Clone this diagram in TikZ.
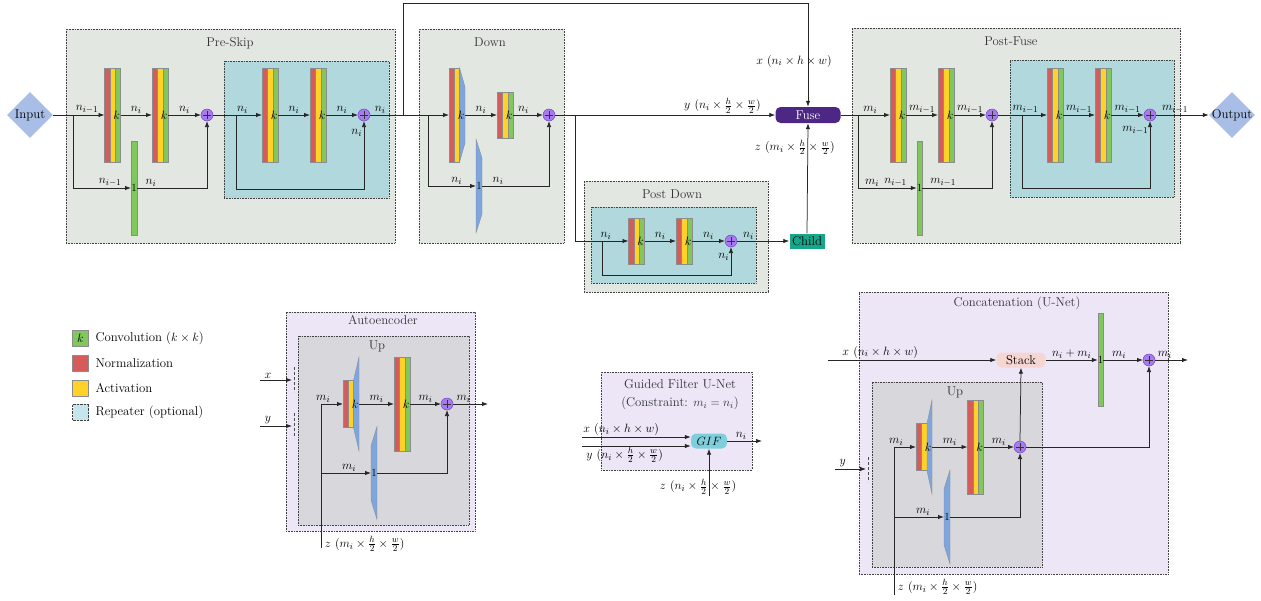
\documentclass[tikz,border=0pt]{standalone}
\usetikzlibrary{arrows.meta,shapes.geometric}
\definecolor{boxg}{RGB}{227,231,226}
\definecolor{repc}{RGB}{176,216,221}
\definecolor{legrep}{RGB}{198,230,238}
\definecolor{cred}{RGB}{214,92,92}
\definecolor{cyel}{RGB}{255,210,40}
\definecolor{cgreen}{RGB}{128,200,92}
\definecolor{cblue}{RGB}{126,166,222}
\definecolor{plusc}{RGB}{168,122,240}
\definecolor{plusd}{RGB}{110,70,190}
\definecolor{fusec}{RGB}{76,40,132}
\definecolor{childc}{RGB}{22,166,138}
\definecolor{ioc}{RGB}{168,190,230}
\definecolor{lav}{RGB}{236,230,246}
\definecolor{upg}{RGB}{216,216,220}
\definecolor{gifc}{RGB}{126,206,220}
\definecolor{stackc}{RGB}{246,214,210}
\begin{document}
\begin{tikzpicture}[x=1pt,y=-1pt,font=\fontsize{12.8}{15}\selectfont,
 arr/.style={-{Latex[length=6pt,width=4.4pt]},line width=0.75pt,draw=black!85},
 lab/.style={inner sep=1.5pt},
 ttl/.style={text=black!80,inner sep=1pt},
 cbox/.style={draw=black!75,densely dotted,line width=0.6pt,inner sep=0pt,outer sep=0pt,anchor=north west},
 strip/.style={draw=black!45,line width=0.35pt},
 nac/.style={draw=black!45,line width=0.4pt,fill=cgreen,minimum width=16pt,minimum height=#1,inner sep=0pt,outer sep=0pt,
  path picture={
   \fill[cred] (path picture bounding box.north west) rectangle ([xshift=5.33pt]path picture bounding box.south west);
   \fill[cyel] ([xshift=5.33pt]path picture bounding box.north west) rectangle ([xshift=10.67pt]path picture bounding box.south west);
   \draw[black!45,line width=0.3pt] ([xshift=5.33pt]path picture bounding box.north west) -- ([xshift=5.33pt]path picture bounding box.south west) ([xshift=10.67pt]path picture bounding box.north west) -- ([xshift=10.67pt]path picture bounding box.south west);},
  label={[anchor=east,inner sep=0.3pt,font=\fontsize{11.5}{12}\selectfont]east:$k$}},
 nac/.default=94pt,
 conv1/.style={draw=black!45,line width=0.4pt,fill=cgreen,minimum width=6pt,minimum height=94pt,inner sep=0pt,outer sep=0pt,font=\fontsize{11}{12}\selectfont},
 ghost/.style={inner sep=0pt,outer sep=0pt,minimum width=#1},
 klab/.style={inner sep=0.3pt,font=\fontsize{11.5}{12}\selectfont},
 onelab/.style={inner sep=0pt,font=\fontsize{11}{12}\selectfont},
 plus/.style={circle,draw=plusd,fill=plusc,line width=0.5pt,minimum size=12pt,inner sep=0pt,outer sep=0pt,
  path picture={\draw[black!80,line width=0.6pt] ([yshift=-2pt]path picture bounding box.north) -- ([yshift=2pt]path picture bounding box.south) ([xshift=2pt]path picture bounding box.west) -- ([xshift=-2pt]path picture bounding box.east);}},
 iod/.style={diamond,aspect=1,fill=ioc,minimum width=46pt,minimum height=46pt,inner sep=0pt},
 lg/.style={draw=black!45,line width=0.4pt,minimum size=16pt,inner sep=0pt}
]
\useasboundingbox (0,0) rectangle (1261,600);

% ---------------- container boxes ----------------
\node[cbox,fill=boxg,minimum width=329pt,minimum height=214pt] (preskip) at (66,29) {};
\node[cbox,fill=repc,minimum width=165pt,minimum height=137pt] (rep1) at (224,61) {};
\node[cbox,fill=boxg,minimum width=145pt,minimum height=214pt] (down) at (419,29) {};
\node[cbox,fill=boxg,minimum width=184pt,minimum height=111pt] (postdown) at (584,181) {};
\node[cbox,fill=repc,minimum width=165pt,minimum height=76pt] (reppd) at (591,207) {};
\node[cbox,fill=boxg,minimum width=328pt,minimum height=215pt] (postfuse) at (852,28) {};
\node[cbox,fill=repc,minimum width=164pt,minimum height=137pt] (rep2) at (1010,60) {};
\node[cbox,fill=lav,minimum width=189pt,minimum height=219pt] (auto) at (286,312) {};
\node[cbox,fill=upg,minimum width=171pt,minimum height=189pt] (upA) at (298,336) {};
\node[cbox,fill=lav,minimum width=151pt,minimum height=98pt] (gfbox) at (601,372) {};
\node[cbox,fill=lav,minimum width=309pt,minimum height=282pt] (concat) at (859,292) {};
\node[cbox,fill=upg,minimum width=170pt,minimum height=185pt] (upC) at (872,382) {};

\node[ttl] (tpre) at (230,43) {Pre-Skip};
\node[ttl] (tdown) at (490,42) {Down};
\node[ttl] (tpd) at (672,194) {Post Down};
\node[ttl] (tpf) at (1011,41) {Post-Fuse};
\node[ttl] (tauto) at (383,320) {Autoencoder};
\node[ttl] (tupa) at (377,346) {Up};
\node[ttl] (tgf1) at (680,384) {Guided Filter U-Net};
\node[ttl] (tgf2) at (680,403) {(Constraint: $m_i=n_i$)};
\node[ttl] (tcc) at (1017,303) {Concatenation (U-Net)};
\node[ttl] (tupc) at (955,392) {Up};

% ---------------- legend ----------------
\node[lg,fill=cgreen] (lg1) at (80.5,338) {$k$};
\node[anchor=west] (lgt1) at (92,338) {Convolution ($k\times k$)};
\node[lg,fill=cred] (lg2) at (80.5,363) {};
\node[anchor=west] (lgt2) at (92,363) {Normalization};
\node[lg,fill=cyel] (lg3) at (80.5,388) {};
\node[anchor=west] (lgt3) at (92,388) {Activation};
\node[lg,fill=legrep,draw=black!75,densely dotted,line width=0.6pt] (lg4) at (80.5,412) {};
\node[anchor=west] (lgt4) at (92,412) {Repeater (optional)};

% ---------------- top row nodes ----------------
\node[iod] (in) at (30,115) {};
\node (inT) at (in.center) {Input};
\node[nac] (a1) at (112.5,115) {};
\node[nac] (a2) at (160,115) {};
\node[conv1] (s1) at (134,188) {1};
\node[plus] (p1) at (207,115) {};
\node[nac] (a3) at (270,115) {};
\node[nac] (a4) at (318,115) {};
\node[plus] (p2) at (364,115) {};

% Down
\node[ghost=16pt,minimum height=94pt] (d1) at (457,115) {};
\filldraw[strip,fill=cred] (449,68) rectangle (454.3,162);
\filldraw[strip,fill=cyel] (454.3,68) rectangle (459.6,162);
\filldraw[strip,fill=cblue] (459.6,68) -- (465,87) -- (465,143) -- (459.6,162) -- cycle;
\node[klab,anchor=east] (d1k) at (d1.east) {$k$};
\node[nac=46pt] (d2) at (505,115) {};
\node[ghost=6pt,minimum height=94pt] (d3) at (479,186) {};
\filldraw[strip,fill=cblue] (476,139) -- (482,158) -- (482,214) -- (476,233) -- cycle;
\node[onelab] (d3l) at (d3.center) {1};
\node[plus] (p3) at (549,115) {};

% Fuse / child
\node[rounded corners=5pt,fill=fusec,text=white,minimum width=65pt,minimum height=16pt,inner sep=0pt] (fuse) at (808,115) {Fuse};
\node[fill=childc,minimum width=35pt,minimum height=15pt,inner sep=0pt] (child) at (807,241) {Child};

% Post Down
\node[nac=46pt] (pd1) at (636.5,241) {};
\node[nac=46pt] (pd2) at (684,241) {};
\node[plus] (p4) at (731,241) {};

% Post-Fuse
\node[nac] (b1) at (898,115) {};
\node[nac] (b2) at (946,115) {};
\node[conv1,minimum width=5.5pt] (s2) at (919.5,188) {1};
\node[plus] (p5) at (992,115) {};
\node[nac] (b3) at (1055,115) {};
\node[nac] (b4) at (1103,115) {};
\node[plus] (p6) at (1150,115) {};
\node[iod] (out) at (1232,115) {};
\node (outT) at (out.center) {Output};

% ---------------- top row connectors ----------------
\coordinate (ps1) at (73,115);
\draw[arr] (in.east) -- node[lab,above,pos=0.66]{$n_{i-1}$} (a1.west);
\draw[arr] (a1.east) -- node[lab,above]{$n_i$} (a2.west);
\draw[arr] (a2.east) -- node[lab,above]{$n_i$} (p1.west);
\draw[arr] (ps1) |- node[lab,above,pos=0.82]{$n_{i-1}$} (s1.west);
\draw[arr] (s1.east) -| node[lab,above,pos=0.1]{$n_i$} (p1.south);
\draw[arr] (p1.east) -- node[lab,above,pos=0.6]{$n_i$} (a3.west);
\coordinate (ps2) at (236,115);
\coordinate (ps2b) at (236,189);
\draw[arr] (ps2) -- (ps2b) -| node[lab,left,pos=0.91]{$n_i$} (p2.south);
\draw[arr] (a3.east) -- node[lab,above]{$n_i$} (a4.west);
\draw[arr] (a4.east) -- node[lab,above]{$n_i$} (p2.west);
\draw[arr] (p2.east) -- node[lab,above,pos=0.13]{$n_i$} (d1.west);

\coordinate (tx) at (403,115);
\coordinate (tx1) at (403,3);
\draw[arr] (tx) -- (tx1) -| node[lab,pos=0.78,xshift=-14pt]{$x~(n_i\times h\times w)$} (fuse.north);

\draw[arr] (d1.east) -- node[lab,above]{$n_i$} (d2.west);
\draw[arr] (d2.east) -- node[lab,above,pos=0.35]{$n_i$} (p3.west);
\coordinate (dk) at (428,115);
\draw[arr] (dk) |- node[lab,above,pos=0.8]{$n_i$} (d3.west);
\draw[arr] (d3.east) -| node[lab,above,pos=0.12]{$n_i$} (p3.south);
\draw[arr] (p3.east) -- node[lab,above,pos=0.76]{$y~(n_i\times\frac{h}{2}\times\frac{w}{2})$} (fuse.west);

\coordinate (pd) at (575,115);
\draw[arr] (pd) |- node[lab,above,pos=0.79]{$n_i$} (pd1.west);
\draw[arr] (pd1.east) -- node[lab,above]{$n_i$} (pd2.west);
\draw[arr] (pd2.east) -- node[lab,above]{$n_i$} (p4.west);
\coordinate (pdk) at (602,241);
\coordinate (pdk2) at (602,275);
\draw[arr] (pdk) -- (pdk2) -| node[lab,left,pos=0.83]{$n_i$} (p4.south);
\draw[arr] (p4.east) -- node[lab,above,pos=0.22]{$n_i$} (child.west);
\draw[arr] (child.north) -- node[lab,pos=0.78,xshift=-13pt]{$z~(m_i\times\frac{h}{2}\times\frac{w}{2})$} (fuse.south);

\draw[arr] (fuse.east) -- node[lab,above,pos=0.6]{$m_i$} (b1.west);
\coordinate (pf1) at (858,115);
\draw[arr] (pf1) |- node[lab,above,pos=0.62]{$m_i$} node[lab,above,pos=0.82]{$n_{i-1}$} (s2.west);
\draw[arr] (b1.east) -- node[lab,above]{$m_{i-1}$} (b2.west);
\draw[arr] (b2.east) -- node[lab,above]{$m_{i-1}$} (p5.west);
\draw[arr] (s2.east) -| node[lab,above,pos=0.15]{$m_{i-1}$} (p5.south);
\draw[arr] (p5.east) -- node[lab,above,pos=0.56]{$m_{i-1}$} (b3.west);
\coordinate (pf2) at (1022,115);
\coordinate (pf3) at (1022,188);
\draw[arr] (pf2) -- (pf3) -| node[lab,left,pos=0.93]{$m_{i-1}$} (p6.south);
\draw[arr] (b3.east) -- node[lab,above]{$m_{i-1}$} (b4.west);
\draw[arr] (b4.east) -- node[lab,above]{$m_{i-1}$} (p6.west);
\draw[arr] (p6.east) -- node[lab,above,pos=0.36]{$m_{i-1}$} (out.west);

% ---------------- Autoencoder ----------------
\node[ghost=16pt,minimum height=94pt] (u1) at (351,404) {};
\filldraw[strip,fill=cred] (343,380.5) rectangle (348.3,427.5);
\filldraw[strip,fill=cyel] (348.3,380.5) rectangle (353.5,427.5);
\filldraw[strip,fill=cblue] (353.5,380.5) -- (359,357) -- (359,451) -- (353.5,427.5) -- cycle;
\node[klab,anchor=east] (u1k) at (u1.east) {$k$};
\node[nac] (u2) at (402,404) {};
\node[ghost=6pt,minimum height=93pt] (u3) at (374,473) {};
\filldraw[strip,fill=cblue] (377,426.5) -- (371,446) -- (371,500) -- (377,519.5) -- cycle;
\node[onelab] (u3l) at (u3.center) {1};
\node[plus] (p7) at (447,404) {};

\coordinate (ax) at (260,380);
\coordinate (axp) at (292,380);
\coordinate (ay) at (260,426);
\coordinate (ayp) at (292,426);
\draw[black!70,densely dashed,line width=0.8pt] (294,367) -- (294,392);
\draw[black!70,densely dashed,line width=0.8pt] (294,413) -- (294,438);
\draw[arr] (ax) -- node[lab,above,pos=0.25]{$x$} (axp);
\draw[arr] (ay) -- node[lab,above,pos=0.25]{$y$} (ayp);
\coordinate (az) at (321,548);
\coordinate (azc) at (321,473);
\draw[arr] (az) node[lab,anchor=west,xshift=2pt,yshift=4pt]{$z~(m_i\times\frac{h}{2}\times\frac{w}{2})$} |- node[lab,above,pos=0.55]{$m_i$} (u1.west);
\draw[arr] (azc) -- node[lab,above,pos=0.56]{$m_i$} (u3.west);
\draw[arr] (u1.east) -- node[lab,above]{$m_i$} (u2.west);
\draw[arr] (u2.east) -- node[lab,above]{$m_i$} (p7.west);
\draw[arr] (u3.east) -| (p7.south);
\coordinate (aout) at (488,404);
\draw[arr] (p7.east) -- node[lab,above,pos=0.3]{$m_i$} (aout);

% ---------------- Guided filter ----------------
\node[rounded corners=5pt,fill=gifc,minimum width=36pt,minimum height=15pt,inner sep=0pt] (gif) at (709,441) {$GIF$};
\coordinate (gx) at (582,437);
\coordinate (gy) at (582,446);
\coordinate (gout) at (762,441);
\coordinate (gz) at (709,496);
\draw[arr] (gx) -- node[lab,anchor=south west,pos=0,inner sep=1pt]{$x~(n_i\times h\times w)$} ([yshift=4pt]gif.west);
\draw[arr] (gy) -- node[lab,anchor=north west,pos=0,xshift=3pt,inner sep=1pt]{$y~(n_i\times\frac{h}{2}\times\frac{w}{2})$} ([yshift=-5pt]gif.west);
\draw[arr] (gif.east) -- node[lab,above,pos=0.4]{$n_i$} (gout);
\draw[arr] (gz) -- node[lab,pos=0.2,xshift=-11pt]{$z~(n_i\times\frac{h}{2}\times\frac{w}{2})$} (gif.south);

% ---------------- Concatenation ----------------
\node[rounded corners=5pt,fill=stackc,minimum width=49pt,minimum height=15pt,inner sep=0pt] (stack) at (1021,360) {Stack};
\node[conv1,minimum width=5pt,minimum height=93pt] (c1) at (1100.5,360) {1};
\node[plus] (p8) at (1149,360) {};
\node[ghost=16pt,minimum height=94pt] (v1) at (924,447) {};
\filldraw[strip,fill=cred] (916,423.5) rectangle (921.5,470.5);
\filldraw[strip,fill=cyel] (921.5,423.5) rectangle (927,470.5);
\filldraw[strip,fill=cblue] (927,423.5) -- (932,400) -- (932,494) -- (927,470.5) -- cycle;
\node[klab,anchor=east] (v1k) at (v1.east) {$k$};
\node[nac] (v2) at (975.5,447) {};
\node[ghost=6pt,minimum height=94pt] (v3) at (947,517) {};
\filldraw[strip,fill=cblue] (950,470) -- (944,489) -- (944,545) -- (950,564) -- cycle;
\node[onelab] (v3l) at (v3.center) {1};
\node[plus] (p9) at (1020,447) {};

\coordinate (cx) at (828,360);
\coordinate (cout) at (1188,360);
\coordinate (cy) at (835,469);
\coordinate (cyp) at (866,469);
\coordinate (cz) at (894,595);
\coordinate (czc) at (894,517);
\draw[black!70,densely dashed,line width=0.8pt] (868,457) -- (868,482);
\draw[arr] (cx) -- node[lab,above,pos=0.31]{$x~(n_i\times h\times w)$} (stack.west);
\draw[arr] (stack.east) -- node[lab,above]{$n_i+m_i$} (c1.west);
\draw[arr] (c1.east) -- node[lab,above,pos=0.4]{$m_i$} (p8.west);
\draw[arr] (p8.east) -- node[lab,above,pos=0.3]{$m_i$} (cout);
\draw[arr] (cy) -- node[lab,above,pos=0.25]{$y$} (cyp);
\draw[arr] (cz) node[lab,anchor=west,xshift=2pt,yshift=8pt]{$z~(m_i\times\frac{h}{2}\times\frac{w}{2})$} |- node[lab,above,pos=0.55]{$m_i$} (v1.west);
\draw[arr] (czc) -- node[lab,above,pos=0.58]{$m_i$} (v3.west);
\draw[arr] (v1.east) -- node[lab,above]{$m_i$} (v2.west);
\draw[arr] (v2.east) -- node[lab,above]{$m_i$} (p9.west);
\draw[arr] (v3.east) -| (p9.south);
\draw[arr] (p9.north) -- (stack.south);
\draw[arr] (p9.east) -| (p8.south);
\end{tikzpicture}
\end{document}
